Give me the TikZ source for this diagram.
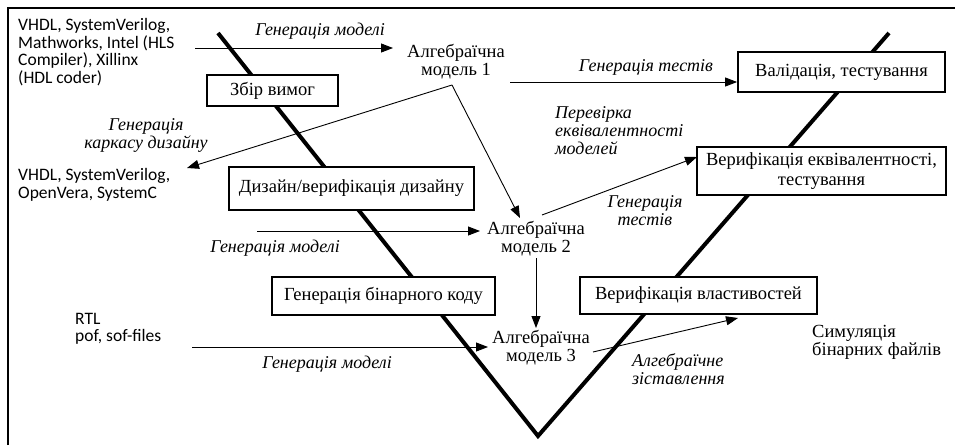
\documentclass[tikz,border=0pt]{standalone}
\usepackage{fontspec}
\setmainfont{Liberation Serif}
\newfontfamily\sansfnt{Carlito}
\usetikzlibrary{arrows.meta}
\tikzset{
  vline/.style={line width=4pt, line join=miter},
  frameline/.style={line width=1.2pt},
  stagebox/.style={draw, line width=1.8pt, fill=white, inner sep=0pt, font=\fontsize{18.5}{20}\selectfont, align=center},
  model/.style={inner sep=0pt, font=\fontsize{18.5}{18}\selectfont, align=center},
  lbl/.style={inner sep=0pt, font=\fontsize{18}{18}\selectfont\itshape},
  src/.style={inner sep=0pt, font=\sansfnt\fontsize{17.5}{17.5}\selectfont, align=left, anchor=west},
  arr/.style={line width=0.9pt, -{Triangle[length=12pt,width=9pt]}},
}
\begin{document}
\begin{tikzpicture}[x=1pt,y=-1pt]
\useasboundingbox (0,0) rectangle (955,445);
% frame
\coordinate (fbl) at (8,445);
\coordinate (ftl) at (8,8);
\coordinate (ftr) at (955,8);
\draw[frameline] (fbl) -- (ftl) -- (ftr);

% V lines
\coordinate (vl) at (218,33);
\coordinate (vb) at (538,436);
\coordinate (vr) at (889,33);
\draw[vline] (vl) -- (vb) -- (vr);

% stage boxes
\node[stagebox, minimum width=131pt, minimum height=31pt] (req) at (272.5,90.5) {Збір вимог};
\node[stagebox, minimum width=245pt, minimum height=43pt] (des) at (351.5,188.5) {Дизайн/верифікація дизайну};
\node[stagebox, minimum width=223pt, minimum height=38pt] (bin) at (383.5,296) {Генерація бінарного коду};
\node[stagebox, minimum width=207pt, minimum height=40pt] (val) at (841.5,72) {Валідація, тестування};
\node[stagebox, minimum width=249pt, minimum height=48pt] (eqv) at (821.5,171) {Верифікація еквівалентності,\\тестування};
\node[stagebox, minimum width=237pt, minimum height=37pt] (prop) at (698.5,295.5) {Верифікація властивостей};

% models
\node[model] (m1) at (456,62) {Алгебраїчна\\модель 1};
\node[model] (m2) at (536,239) {Алгебраїчна\\модель 2};
\node[model] (m3) at (541,348) {Алгебраїчна\\модель 3};

% source texts
\node[src] (s1) at (18,52) {VHDL, SystemVerilog,\\Mathworks, Intel (HLS\\Compiler), Xillinx\\(HDL coder)};
\node[src] (s2) at (18,185) {VHDL, SystemVerilog,\\OpenVera, SystemC};
\node[src] (s3) at (75,329) {RTL\\pof, sof-files};
\node[model, align=left, anchor=west] (sim) at (812,342) {Симуляція\\бінарних файлів};

% labels
\node[lbl] (l1) at (320,31) {Генерація моделі};
\node[lbl] (l2) at (646,67) {Генерація тестів};
\node[lbl, align=center] (l3) at (146,135) {Генерація\\каркасу дизайну};
\node[lbl, align=left, anchor=west] (l4) at (555,131) {Перевірка\\еквівалентності\\моделей};
\node[lbl, align=center] (l5) at (645,211) {Генерація\\тестів};
\node[lbl] (l6) at (275,248) {Генерація моделі};
\node[lbl] (l7) at (327,364) {Генерація моделі};
\node[lbl, align=left, anchor=west] (l8) at (632,369) {Алгебраїчне\\зіставлення};

% arrow coordinates
\coordinate (a1s) at (195,48);
\coordinate (a1e) at (393,48);
\coordinate (a2s) at (510,82);
\coordinate (m1b) at (452,85);
\coordinate (a3e) at (187,168);
\coordinate (a4e) at (520,218);
\coordinate (a5s) at (542,215);
\coordinate (a5e) at (697,157);
\coordinate (a6s) at (257,231);
\coordinate (a6e) at (480,231);
\coordinate (a7s) at (536,258);
\coordinate (a7e) at (536,328);
\coordinate (a8s) at (192,347);
\coordinate (a8e) at (488,347);
\coordinate (a9s) at (593,352);
\coordinate (a9e) at (738,318);

\draw[arr] (a1s) -- (a1e);
\draw[arr] (a2s) -- (a2s -| val.west);
\draw[arr] (m1b) -- (a3e);
\draw[arr] (m1b) -- (a4e);
\draw[arr] (a5s) -- (a5e);
\draw[arr] (a6s) -- (a6e);
\draw[arr] (a7s) -- (a7e);
\draw[arr] (a8s) -- (a8e);
\draw[arr] (a9s) -- (a9e);
\end{tikzpicture}
\end{document}
